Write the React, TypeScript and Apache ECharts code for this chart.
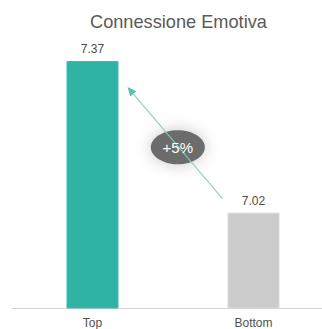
import React, { useEffect, useRef } from "react";
import * as echarts from "echarts";

const categories = ["Top", "Bottom"];
const values = [7.37, 7.02];
const barColors = ["#2fb3a4", "#cbcbcb"];
const deltaLabel = "+5%";
const titleText = "Connessione Emotiva";

export default function App() {
  const ref = useRef<HTMLDivElement>(null);
  useEffect(() => {
    const chart = echarts.init(ref.current!, null, { renderer: "svg" });
    chart.setOption({
      animation: false,
      title: {
        text: titleText,
        left: 85,
        top: 8,
        textStyle: { fontFamily: "Liberation Sans", fontSize: 18.2, fontWeight: "normal", color: "#5a5a5a" },
      },
      grid: { left: 12, right: 12, top: 48, bottom: 21 },
      xAxis: {
        type: "category",
        data: categories,
        axisLine: { lineStyle: { color: "#d6d6d6" } },
        axisTick: { show: false },
        axisLabel: { fontFamily: "Liberation Sans", fontSize: 12, color: "#505050", margin: 9 },
      },
      yAxis: { type: "value", min: 6.8, max: 7.4, show: false, splitLine: { show: false } },
      series: [
        {
          type: "bar",
          barWidth: 52,
          data: values.map((v, i) => ({
            value: v,
            itemStyle: { color: barColors[i], borderColor: i === 0 ? "#3dbcae" : "#d9d9d9", borderWidth: 1 },
          })),
          label: {
            show: true,
            position: "top",
            distance: 6,
            fontFamily: "Liberation Sans",
            fontSize: 12,
            color: "#4a4a4a",
            formatter: (p: any) => p.value.toFixed(2),
          },
        },
      ],
    });
    const pTop = chart.convertToPixel({ gridIndex: 0 }, [categories[0], values[0]]) as number[];
    const pBot = chart.convertToPixel({ gridIndex: 0 }, [categories[1], values[1]]) as number[];
    const start = [pBot[0] - 31, pBot[1] - 14];
    const end = [pTop[0] + 35, pTop[1] + 26];
    const dx = end[0] - start[0];
    const dy = end[1] - start[1];
    const len = Math.sqrt(dx * dx + dy * dy);
    const ux = dx / len, uy = dy / len;
    const hl = 9, hw = 4;
    const base = [end[0] - ux * hl, end[1] - uy * hl];
    const t = 0.46;
    const cx = start[0] + dx * t - 1;
    const cy = start[1] + dy * t;
    chart.setOption({
      graphic: [
        {
          type: "ellipse",
          shape: { cx, cy, rx: 27, ry: 17 },
          style: { fill: "#6c6c6c", shadowBlur: 16, shadowColor: "rgba(0,0,0,0.22)" },
          z: 10,
        },
        {
          type: "line",
          shape: { x1: start[0], y1: start[1], x2: base[0], y2: base[1] },
          style: { stroke: "#86cbbd", lineWidth: 1.2, opacity: 0.9 },
          z: 11,
        },
        {
          type: "polygon",
          shape: {
            points: [
              end,
              [base[0] - uy * hw, base[1] + ux * hw],
              [base[0] + uy * hw, base[1] - ux * hw],
            ],
          },
          style: { fill: "#5fbfa9" },
          z: 11,
        },
        {
          type: "text",
          x: cx,
          y: cy,
          style: {
            text: deltaLabel,
            fill: "#ffffff",
            fontSize: 15,
            fontFamily: "Liberation Sans",
            align: "center",
            verticalAlign: "middle",
          },
          z: 12,
        },
      ],
    });
    return () => chart.dispose();
  }, []);
  return (
    <div style={{ position: "absolute", left: 0, top: 0, width: 322, height: 329, overflow: "hidden" }}>
      <div ref={ref} style={{ width: 346, height: 329 }} />
    </div>
  );
}
